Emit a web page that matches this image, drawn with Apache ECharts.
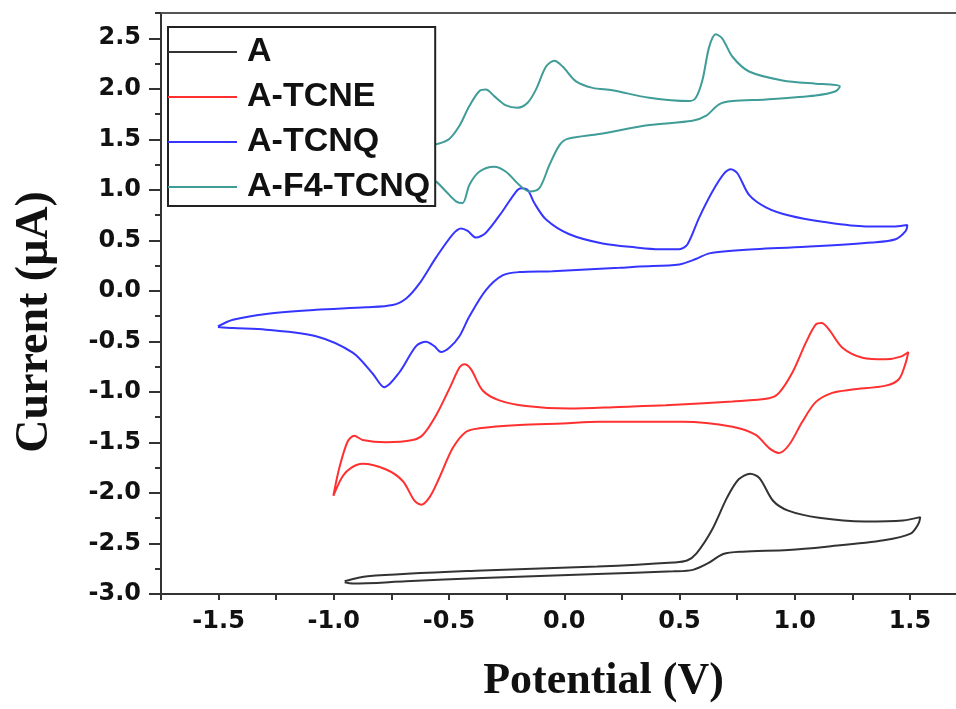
<!DOCTYPE html>
<html>
<head>
<meta charset="utf-8">
<script src="https://cdn.jsdelivr.net/npm/echarts@6/dist/echarts.min.js"></script>
<style>
  html, body { margin: 0; padding: 0; background: #fff; }
  #chart { width: 956px; height: 709px; }
</style>
</head>
<body>
<div id="chart"></div>
<script>
// [potential V, current uA], traced round each loop
var curveA = [
  [-0.953, -2.874], [-0.853, -2.825], [-0.355, -2.767], [0.143, -2.728], [0.474, -2.688],
  [0.533, -2.669], [0.574, -2.598], [0.640, -2.370], [0.707, -2.044], [0.757, -1.865],
  [0.807, -1.810], [0.848, -1.855], [0.906, -2.077], [0.972, -2.175], [1.105, -2.246],
  [1.304, -2.282], [1.470, -2.272], [1.545, -2.239],
  [1.537, -2.305], [1.503, -2.402], [1.387, -2.468], [1.138, -2.532], [0.972, -2.565],
  [0.773, -2.581], [0.690, -2.604], [0.624, -2.695], [0.558, -2.761], [0.474, -2.776],
  [0.143, -2.803], [-0.355, -2.842], [-0.687, -2.874], [-0.919, -2.897], [-0.953, -2.884]
];
var curveTCNE = [
  [-1.002, -2.028], [-0.976, -1.751], [-0.940, -1.491], [-0.911, -1.433], [-0.875, -1.475],
  [-0.773, -1.497], [-0.658, -1.475], [-0.614, -1.426], [-0.556, -1.230], [-0.499, -0.970],
  [-0.455, -0.759], [-0.434, -0.726], [-0.405, -0.774], [-0.354, -0.986], [-0.282, -1.084],
  [-0.166, -1.140], [0.022, -1.165], [0.239, -1.149], [0.441, -1.133], [0.730, -1.094],
  [0.889, -1.062], [0.932, -1.009], [0.990, -0.808], [1.048, -0.515], [1.091, -0.335],
  [1.117, -0.319], [1.149, -0.384], [1.207, -0.563], [1.294, -0.661], [1.395, -0.677],
  [1.460, -0.651], [1.493, -0.605],
  [1.482, -0.710], [1.453, -0.872], [1.395, -0.938], [1.250, -0.977], [1.163, -1.009],
  [1.091, -1.101], [1.033, -1.296], [0.976, -1.523], [0.932, -1.604], [0.889, -1.556],
  [0.831, -1.426], [0.730, -1.345], [0.513, -1.296], [0.152, -1.296], [-0.007, -1.312],
  [-0.195, -1.328], [-0.369, -1.360], [-0.426, -1.394], [-0.484, -1.556], [-0.542, -1.849],
  [-0.585, -2.044], [-0.621, -2.116], [-0.650, -2.077], [-0.701, -1.882], [-0.773, -1.768],
  [-0.875, -1.712], [-0.925, -1.751], [-0.961, -1.833], [-1.002, -2.028]
];
var curveTCNQ = [
  [-1.503, -0.352], [-1.438, -0.286], [-1.294, -0.228], [-1.077, -0.188], [-0.860, -0.163],
  [-0.745, -0.140], [-0.686, -0.075], [-0.629, 0.071], [-0.556, 0.332], [-0.484, 0.560],
  [-0.448, 0.618], [-0.419, 0.593], [-0.383, 0.527], [-0.340, 0.576], [-0.268, 0.788],
  [-0.209, 0.983], [-0.188, 1.016], [-0.159, 0.999], [-0.130, 0.869], [-0.079, 0.706],
  [0.022, 0.560], [0.166, 0.469], [0.311, 0.430], [0.412, 0.413], [0.499, 0.413],
  [0.535, 0.462], [0.585, 0.723], [0.643, 0.983], [0.694, 1.162], [0.723, 1.204],
  [0.752, 1.162], [0.802, 0.950], [0.875, 0.827], [0.976, 0.745], [1.120, 0.684],
  [1.308, 0.638], [1.438, 0.638], [1.489, 0.651],
  [1.482, 0.593], [1.438, 0.511], [1.337, 0.479], [1.048, 0.437], [0.759, 0.403],
  [0.629, 0.371], [0.571, 0.315], [0.499, 0.261], [0.325, 0.241], [0.239, 0.228],
  [-0.051, 0.195], [-0.195, 0.186], [-0.268, 0.153], [-0.340, 0.007], [-0.412, -0.254],
  [-0.455, -0.449], [-0.499, -0.563], [-0.535, -0.605], [-0.564, -0.547], [-0.600, -0.503],
  [-0.643, -0.547], [-0.716, -0.808], [-0.781, -0.954], [-0.831, -0.820], [-0.918, -0.612],
  [-1.077, -0.449], [-1.294, -0.384], [-1.438, -0.368], [-1.503, -0.357]
];
var curveF4TCNQ = [
  [-0.680, 1.300], [-0.620, 1.420], [-0.549, 1.455], [-0.499, 1.504], [-0.455, 1.634],
  [-0.412, 1.829], [-0.369, 1.976], [-0.340, 1.992], [-0.304, 1.927], [-0.253, 1.836],
  [-0.203, 1.813], [-0.159, 1.862], [-0.123, 1.992], [-0.079, 2.220], [-0.043, 2.278],
  [-0.007, 2.220], [0.051, 2.073], [0.123, 2.009], [0.209, 1.985], [0.369, 1.911],
  [0.542, 1.878], [0.571, 1.911], [0.600, 2.090], [0.629, 2.415], [0.658, 2.539],
  [0.686, 2.497], [0.730, 2.317], [0.802, 2.171], [0.947, 2.083], [1.091, 2.051],
  [1.163, 2.041], [1.196, 2.024],
  [1.178, 1.976], [1.091, 1.934], [0.875, 1.895], [0.730, 1.878], [0.672, 1.846],
  [0.614, 1.731], [0.556, 1.683], [0.369, 1.641], [0.152, 1.553], [0.014, 1.504],
  [-0.022, 1.438], [-0.065, 1.243], [-0.108, 1.016], [-0.152, 0.983], [-0.195, 1.048],
  [-0.253, 1.179], [-0.304, 1.228], [-0.369, 1.179], [-0.412, 1.048], [-0.441, 0.869],
  [-0.470, 0.886], [-0.513, 0.983], [-0.556, 1.081], [-0.620, 1.160], [-0.680, 1.300]
];

var seriesNames = ['A', 'A-TCNE', 'A-TCNQ', 'A-F4-TCNQ'];
var seriesColors = ['#333333', '#ff3030', '#3535ff', '#3f9c97'];

var xTicks = [-1.75, -1.5, -1.25, -1.0, -0.75, -0.5, -0.25, 0, 0.25, 0.5, 0.75, 1.0, 1.25, 1.5];
var xLabels = [-1.5, -1.0, -0.5, 0, 0.5, 1.0, 1.5];
var yLabels = [-3.0, -2.5, -2.0, -1.5, -1.0, -0.5, 0, 0.5, 1.0, 1.5, 2.0, 2.5];
var yMinorTicks = [-2.75, -2.25, -1.75, -1.25, -0.75, -0.25, 0.25, 0.75, 1.25, 1.75, 2.25, 2.75];

var tickFont = { fontFamily: 'DejaVu Sans', fontWeight: 'bold', fontSize: 24, color: '#111' };

var chart = echarts.init(document.getElementById('chart'), null, { renderer: 'canvas' });
var curves = [curveA, curveTCNE, curveTCNQ, curveF4TCNQ];

chart.setOption({
  animation: false,
  backgroundColor: '#fff',
  grid: { left: 161, right: 0, top: 13, bottom: 107 },
  legend: {
    orient: 'vertical',
    left: 168,
    top: 27,
    padding: [8, 5, 2, 0],
    icon: 'rect',
    itemWidth: 69,
    itemHeight: 2,
    itemGap: 11,
    backgroundColor: '#fff',
    borderColor: '#222',
    borderWidth: 2,
    data: seriesNames,
    textStyle: {
      fontFamily: 'Liberation Sans', fontWeight: 'bold', fontSize: 34,
      lineHeight: 34, color: '#111', padding: [0, 0, 0, 5]
    }
  },
  xAxis: [{
    type: 'value', min: -1.75, max: 1.7, position: 'bottom',
    name: 'Potential (V)', nameLocation: 'middle', nameGap: 66,
    nameTextStyle: { fontFamily: 'Liberation Serif', fontWeight: 'bold', fontSize: 44, color: '#111', padding: [0, 0, 0, 90] },
    axisLine: { show: true, onZero: false, lineStyle: { color: '#333', width: 2 } },
    axisTick: { show: true, length: 6, customValues: xTicks, lineStyle: { color: '#333', width: 2 } },
    axisLabel: { margin: 16, customValues: xLabels, formatter: function (v) { return v.toFixed(1); }, fontFamily: tickFont.fontFamily, fontWeight: tickFont.fontWeight, fontSize: 24, color: tickFont.color },
    splitLine: { show: false }
  }, {
    type: 'value', min: -1.75, max: 1.7, position: 'top',
    axisLine: { show: true, onZero: false, lineStyle: { color: '#555', width: 2 } },
    axisTick: { show: false }, axisLabel: { show: false }, splitLine: { show: false }
  }],
  yAxis: [{
    type: 'value', min: -3, max: 2.75, position: 'left',
    name: 'Current (\u03bcA)', nameLocation: 'middle', nameGap: 103,
    nameTextStyle: { fontFamily: 'Liberation Serif', fontWeight: 'bold', fontSize: 46, color: '#111', padding: [0, 37, 0, 0] },
    axisLine: { show: true, onZero: false, lineStyle: { color: '#333', width: 2 } },
    axisTick: { show: true, length: 12, customValues: yLabels, lineStyle: { color: '#333', width: 2 } },
    axisLabel: { margin: 20, customValues: yLabels, formatter: function (v) { return v.toFixed(1); }, fontFamily: tickFont.fontFamily, fontWeight: tickFont.fontWeight, fontSize: 24, color: tickFont.color },
    splitLine: { show: false }
  }, {
    type: 'value', min: -3, max: 2.75, position: 'left',
    axisLine: { show: false, onZero: false },
    axisTick: { show: true, length: 6, customValues: yMinorTicks, lineStyle: { color: '#333', width: 2 } },
    axisLabel: { show: false }, splitLine: { show: false }
  }],
  series: curves.map(function (c, i) {
    return {
      name: seriesNames[i],
      type: 'line',
      xAxisIndex: 0,
      yAxisIndex: 0,
      data: c,
      showSymbol: false,
      symbol: 'none',
      smooth: 0.3,
      lineStyle: { color: seriesColors[i], width: 2 },
      itemStyle: { color: seriesColors[i] },
      z: 2
    };
  })
});
</script>
</body>
</html>
